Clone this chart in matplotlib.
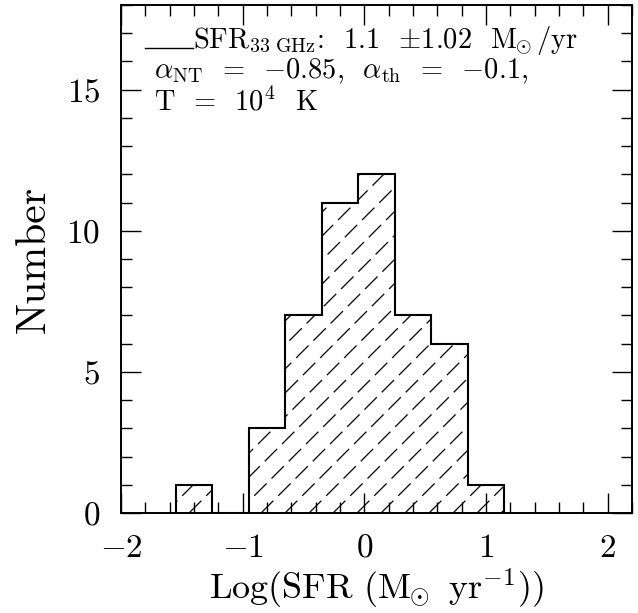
import numpy as np
import matplotlib
matplotlib.use("Agg")
import matplotlib.pyplot as plt
from matplotlib.lines import Line2D
from matplotlib.transforms import IdentityTransform

plt.rcParams["font.family"] = "serif"
plt.rcParams["font.serif"] = ["cmr10"]
plt.rcParams["mathtext.fontset"] = "cm"
plt.rcParams["axes.formatter.use_mathtext"] = True

# histogram of log SFR (33 GHz), bin width 0.3
bin_edges = [-1.55, -1.25, -0.95, -0.65, -0.35, -0.05, 0.25, 0.55, 0.85, 1.15]
counts = [1, 0, 3, 7, 11, 12, 7, 6, 1]

legend_line1 = r"SFR$_{\rm 33\ GHz}$:  1.1  $\pm$1.02  M$_{\!\!\odot}$/yr"
legend_line2 = r"$\alpha_{\rm NT}$  =  $-$0.85,  $\alpha_{\rm th}$  =  $-$0.1,"
legend_line3 = r"T  =  10$^4$  K"

fig = plt.figure(figsize=(6.38, 6.13), dpi=100)
ax = fig.add_axes([0.1897, 0.1631, 0.8009, 0.8287])

step = ax.stairs(counts, bin_edges, fill=True, facecolor="none",
                 edgecolor="black", linewidth=1.5, zorder=3)

ax.set_xlim(-2, 2.2)
ax.set_ylim(0, 18)

# dashed "/" hatching, drawn in pixel space and clipped to the histogram
bb = ax.bbox
spacing = 24
for c in np.arange(bb.x0 - bb.height, bb.x1 + spacing, spacing):
    ln = Line2D([c, c + bb.height], [bb.y0, bb.y1], transform=IdentityTransform(),
                color="black", linewidth=0.9, dashes=(14, 5.5), zorder=2)
    ln.set_clip_path(step)
    ax.add_artist(ln)

ax.set_xticks([-2, -1, 0, 1, 2])
ax.set_yticks([0, 5, 10, 15])
ax.set_xticks(np.arange(-2, 2.21, 0.2), minor=True)
ax.set_yticks(np.arange(0, 18.1, 1), minor=True)
ax.tick_params(which="both", direction="in", top=True, right=True,
               labelsize=24, pad=15, width=1.0)
ax.tick_params(which="major", length=14.5)
ax.tick_params(which="minor", length=8)
for sp in ax.spines.values():
    sp.set_linewidth(1.4)

ax.set_xlabel(r"Log(SFR (M$_{\!\!\odot}$ yr$^{-1}$))", fontsize=26, labelpad=3)
ax.set_ylabel("Number", fontsize=30, labelpad=10)

ax.plot([0.047, 0.141], [0.915, 0.915], transform=ax.transAxes,
        color="black", linewidth=1.0)
ax.text(0.141, 0.915, legend_line1, transform=ax.transAxes, fontsize=20.5,
        va="baseline", ha="left")
ax.text(0.065, 0.855, legend_line2, transform=ax.transAxes, fontsize=20.5,
        va="baseline", ha="left")
ax.text(0.065, 0.793, legend_line3, transform=ax.transAxes, fontsize=20.5,
        va="baseline", ha="left")

fig.savefig("out.png", dpi=100)
